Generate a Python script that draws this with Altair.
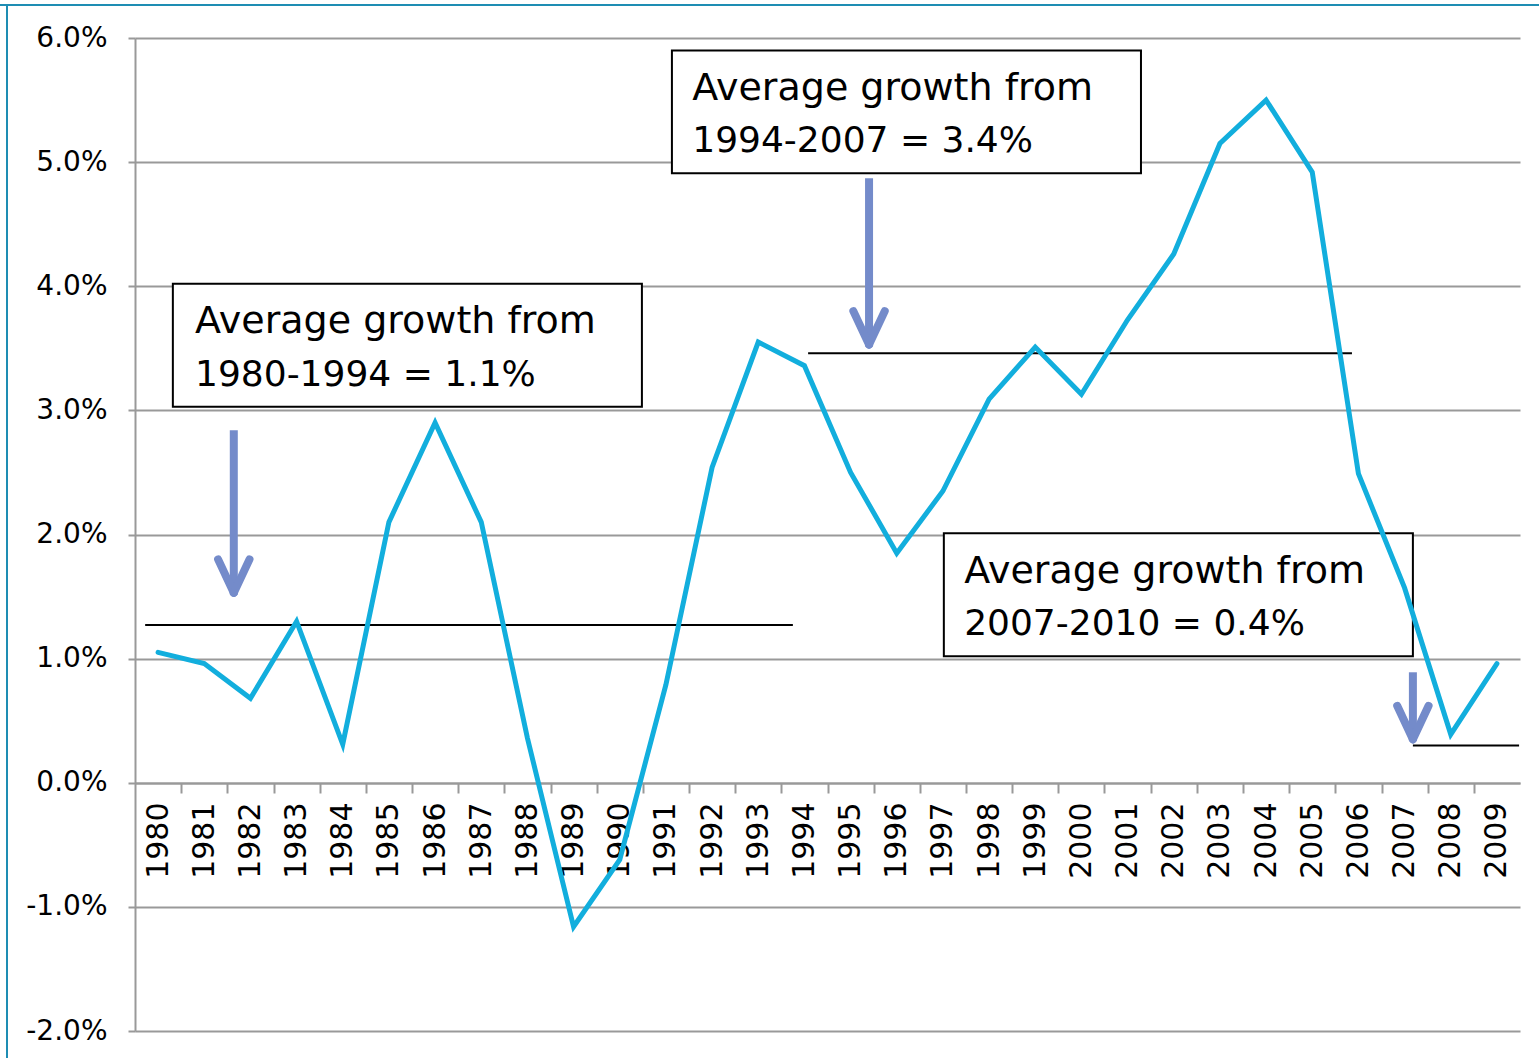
import altair as alt
import pandas as pd

# ---- data ----
years = list(range(1980, 2010))
growth = [1.05, 0.96, 0.68, 1.30, 0.31, 2.10, 2.90, 2.10, 0.36, -1.16,
          -0.62, 0.79, 2.54, 3.55, 3.36, 2.50, 1.85, 2.35, 3.09, 3.51,
          3.13, 3.73, 4.26, 5.15, 5.50, 4.92, 2.49, 1.57, 0.39, 0.96]

avg_start = [1979.72, 1994.08, 2007.18]
avg_end = [1993.75, 2005.86, 2009.48]
avg_level = [1.27, 3.46, 0.30]

box_x1 = [1980.32, 1991.13, 1997.02]
box_x2 = [1990.48, 2001.29, 2007.18]
box_top = [4.02, 5.90, 2.01]
box_bottom = [3.03, 4.91, 1.02]

text_x = [1980.80, 1991.57, 1997.46]
text_line1_y = [3.62, 5.50, 1.61]
text_line2_y = [3.20, 5.08, 1.19]
text_line1 = ["Average growth from"] * 3
text_line2 = ["1980-1994 = 1.1%", "1994-2007 = 3.4%", "2007-2010 = 0.4%"]

arrow_x = [1981.64, 1995.40, 2007.18]
arrow_top = [2.84, 4.87, 0.89]
arrow_tip = [1.53, 3.53, 0.35]
head_dx = 0.34
head_dy = 0.27

# ---- tables ----
line_df = pd.DataFrame({"year": years, "growth": growth})
avg_df = pd.DataFrame({"x": avg_start, "x2": avg_end, "y": avg_level})
box_df = pd.DataFrame({"x": box_x1, "x2": box_x2, "y": box_top, "y2": box_bottom})
txt1_df = pd.DataFrame({"x": text_x, "y": text_line1_y, "t": text_line1})
txt2_df = pd.DataFrame({"x": text_x, "y": text_line2_y, "t": text_line2})
shaft_df = pd.DataFrame({"x": arrow_x, "y": arrow_top, "y2": arrow_tip})
arms = []
for ax, tip in zip(arrow_x, arrow_tip):
    arms.append({"x": ax, "x2": ax - head_dx, "y": tip, "y2": tip + head_dy})
    arms.append({"x": ax, "x2": ax + head_dx, "y": tip, "y2": tip + head_dy})
arm_df = pd.DataFrame(arms)

# ---- scales & axes ----
x_scale = alt.Scale(domain=[1979.5, 2009.5], nice=False, zero=False)
y_scale = alt.Scale(domain=[-2, 6], nice=False, zero=False)

half_years = [y + 0.5 for y in years[:-1]]
x_axis = alt.Axis(
    values=sorted(years + half_years),
    labelExpr="datum.value % 1 == 0 ? format(datum.value, 'd') : ''",
    tickOpacity={"condition": {"test": "datum.value % 1 != 0", "value": 1}, "value": 0},
    tickSize=10, tickColor="#999999", tickWidth=2,
    domainColor="#999999", domainWidth=2,
    labelAngle=-90, labelAlign="right", labelBaseline="middle",
    labelPadding=9, labelFont="DejaVu Sans", labelFontSize=30,
    labelColor="black", labelOverlap=False, labelBound=False, labelFlush=False,
    grid=False, title=None, offset=-248,
)
y_axis = alt.Axis(
    values=list(range(-2, 7)),
    labelExpr="(datum.value < 0 ? '-' : '') + format(abs(datum.value), '.1f') + '%'",
    grid=True, gridColor="#999999", gridWidth=2,
    tickSize=7, tickColor="#999999", tickWidth=2,
    domainColor="#999999", domainWidth=2,
    labelPadding=21, labelFont="DejaVu Sans", labelFontSize=28,
    labelColor="black", labelBaseline="middle", title=None,
)


def X(f):
    return alt.X(f, type="quantitative", scale=x_scale, axis=x_axis)


def Y(f):
    return alt.Y(f, type="quantitative", scale=y_scale, axis=y_axis)


boxes = alt.Chart(box_df).mark_rect(fill="white", stroke="black", strokeWidth=2).encode(
    x=X("x"), x2="x2", y=Y("y"), y2="y2")

texts1 = alt.Chart(txt1_df).mark_text(
    align="left", baseline="alphabetic", font="DejaVu Sans", fontSize=38, color="black"
).encode(x=X("x"), y=Y("y"), text="t:N")

texts2 = alt.Chart(txt2_df).mark_text(
    align="left", baseline="alphabetic", font="DejaVu Sans", fontSize=36, color="black"
).encode(x=X("x"), y=Y("y"), text="t:N")

avgs = alt.Chart(avg_df).mark_rule(color="black", strokeWidth=2).encode(
    x=X("x"), x2="x2", y=Y("y"))

shafts = alt.Chart(shaft_df).mark_rule(color="#748BCA", strokeWidth=8, strokeCap="butt").encode(
    x=X("x"), y=Y("y"), y2="y2")

heads = alt.Chart(arm_df).mark_rule(color="#748BCA", strokeWidth=8, strokeCap="round").encode(
    x=X("x"), x2="x2", y=Y("y"), y2="y2")

line = alt.Chart(line_df).mark_line(
    color="#12AEDD", strokeWidth=5, strokeCap="round", strokeJoin="miter"
).encode(x=X("year"), y=Y("growth"))

frame_df = pd.DataFrame({"a": [0]})
frame_top = alt.Chart(frame_df).mark_rule(color="#1E8DB3", strokeWidth=2).encode(
    x=alt.value(-135), x2=alt.value(1404), y=alt.value(-33))
frame_left = alt.Chart(frame_df).mark_rule(color="#1E8DB3", strokeWidth=2).encode(
    x=alt.value(-128), y=alt.value(-33), y2=alt.value(1020))

chart = alt.layer(
    boxes, texts1, texts2, avgs, shafts, heads, line, frame_top, frame_left
).properties(
    width=1385, height=993,
    padding={"left": 135, "top": 38, "right": 19, "bottom": 27},
    autosize=alt.AutoSizeParams(type="none"),
    background="white",
).configure_view(strokeWidth=0)

chart.save("out.html", embed_options={"renderer": "svg", "actions": False})
